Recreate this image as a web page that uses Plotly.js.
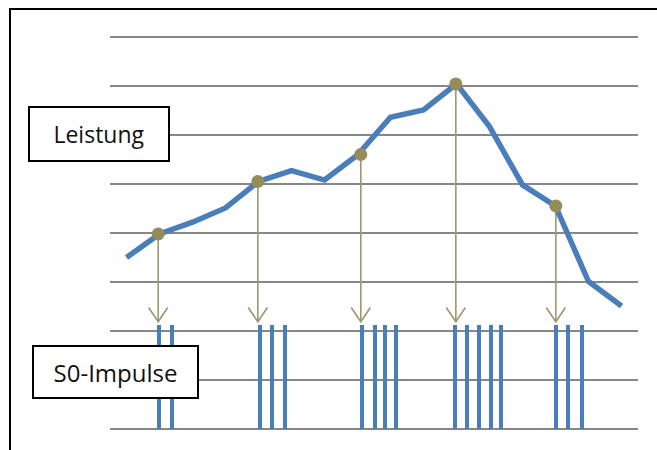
<!DOCTYPE html>
<html>
<head>
<meta charset="utf-8">
<script src="https://cdn.plot.ly/plotly-3.0.1.min.js"></script>
<style>html,body{margin:0;padding:0;background:#fff;}#chart{width:657px;height:450px;}</style>
</head>
<body>
<div id="chart"></div>
<script>
// Power curve (Leistung) sampled at equal time steps
var timeSteps = [0, 1, 2, 3, 4, 5, 6, 7, 8, 9, 10, 11, 12, 13, 14, 15];
var powerValues = [3.50, 3.98, 4.22, 4.51, 5.05, 5.27, 5.08, 5.59, 6.36, 6.51, 7.04, 6.17, 4.98, 4.55, 3.01, 2.51];

// Sample points where the power is read (marked points)
var sampleTimes = [0.96, 3.98, 7.10, 9.98, 13.01];
var sampleValues = [3.98, 5.05, 5.60, 7.04, 4.55];

// S0 pulse times (x positions) and pulse height
var pulseTimes = [0.99, 1.37,
                  4.05, 4.40, 4.80,
                  7.14, 7.52, 7.84, 8.17,
                  9.95, 10.32, 10.69, 11.05, 11.36,
                  13.02, 13.38, 13.80];
var pulseHeight = 2.12;
var arrowTipValue = 2.19;

// Labels
var labelPower = "Leistung";
var labelPulses = "S0-Impulse";

var blue = "#4A7EBB";
var olive = "#968C5A";
var arrowCol = "#9E9870";

// arrow shafts and heads, built from the sample points
var shaftX = [], shaftY = [];
var headX = [], headY = [];
var wingDx = 0.29, wingDy = 0.29;
for (var k = 0; k < sampleTimes.length; k++) {
  var sx = sampleTimes[k];
  shaftX.push(sx, sx, null);
  shaftY.push(sampleValues[k], arrowTipValue, null);
  headX.push(sx - wingDx, sx, sx + wingDx, null);
  headY.push(arrowTipValue + wingDy, arrowTipValue, arrowTipValue + wingDy, null);
}

var traces = [
  {
    type: "bar",
    x: pulseTimes,
    y: pulseTimes.map(function(){ return pulseHeight; }),
    width: 0.12,
    marker: {color: blue, line: {width: 0}},
    hoverinfo: "skip"
  },
  {
    type: "scatter", mode: "lines",
    x: shaftX, y: shaftY,
    line: {color: arrowCol, width: 1.6},
    hoverinfo: "skip"
  },
  {
    type: "scatter", mode: "lines",
    x: headX, y: headY,
    line: {color: arrowCol, width: 1.6},
    hoverinfo: "skip"
  },
  {
    type: "scatter", mode: "lines",
    x: timeSteps, y: powerValues,
    line: {color: blue, width: 5.5},
    hoverinfo: "skip"
  },
  {
    type: "scatter", mode: "markers",
    x: sampleTimes, y: sampleValues,
    marker: {color: olive, size: 13},
    hoverinfo: "skip"
  }
];

var layout = {
  width: 657, height: 450,
  margin: {l: 110, r: 19, t: 27, b: 11, pad: 0},
  paper_bgcolor: "#ffffff",
  plot_bgcolor: "#ffffff",
  showlegend: false,
  bargap: 0,
  xaxis: {
    range: [-0.5, 15.5],
    showgrid: false, zeroline: false, showline: false,
    showticklabels: false, ticks: ""
  },
  yaxis: {
    range: [-0.2, 8.2],
    tick0: 0, dtick: 1,
    showgrid: true, gridcolor: "#878787", gridwidth: 2,
    zeroline: false, showline: false,
    showticklabels: false, ticks: ""
  },
  shapes: [
    {
      type: "rect", xref: "paper", yref: "paper",
      x0: -0.1894, x1: 1.06, y0: -0.06, y1: 1.0437,
      line: {color: "#000000", width: 2},
      fillcolor: "rgba(0,0,0,0)",
      layer: "below"
    }
  ],
  annotations: [
    {
      xref: "paper", yref: "paper",
      x: -0.0208, y: 0.7403,
      xanchor: "center", yanchor: "middle",
      text: labelPower, showarrow: false,
      font: {family: "Open Sans, sans-serif", size: 23, color: "#111111"},
      bgcolor: "#ffffff", bordercolor: "#000000", borderwidth: 2, borderpad: 0,
      width: 138, height: 52
    },
    {
      xref: "paper", yref: "paper",
      x: 0.0104, y: 0.1626,
      xanchor: "center", yanchor: "middle",
      text: labelPulses, showarrow: false,
      font: {family: "Open Sans, sans-serif", size: 24, color: "#111111"},
      bgcolor: "#ffffff", bordercolor: "#000000", borderwidth: 2, borderpad: 0,
      width: 163, height: 50
    }
  ]
};

Plotly.newPlot("chart", traces, layout, {displayModeBar: false, staticPlot: true});
</script>
</body>
</html>
